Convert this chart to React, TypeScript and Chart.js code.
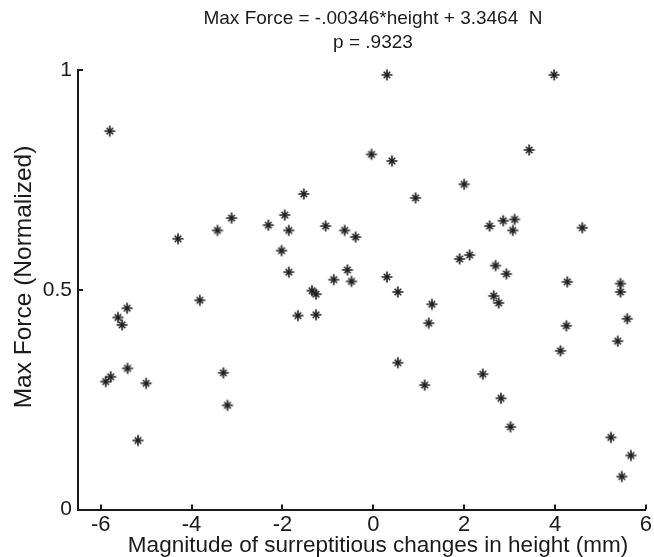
import React, { useEffect, useRef } from "react";
import { Chart, registerables } from "chart.js";

Chart.register(...registerables);

// Height change (mm) for each trial
const heightChange = [
  -5.80, -1.53, -3.12, -3.43, -4.30, -2.31, -1.95, -1.86, -2.02, -1.86,
  -1.05, -0.63, -0.39, -0.87, -0.57, -0.48, -1.35, -1.26, -3.82, -5.42,
  -5.62, -1.66, -1.26, -5.53, -5.41, -5.89, -5.78, -5.00, -5.18, -3.30,
  -3.21, 0.30, 3.98, -0.04, 0.41, 3.43, 2.00, 0.93, 2.56, 2.86,
  3.11, 3.07, 4.60, 1.90, 2.12, 2.69, 2.93, 0.30, 0.54, 1.29,
  2.65, 2.76, 4.27, 5.44, 5.44, 5.59, 1.22, 0.54, 1.13, 2.41,
  2.81, 3.02, 4.25, 4.12, 5.38, 5.23, 5.67, 5.47,
];

// Normalized max force for each trial
const maxForce = [
  0.861, 0.718, 0.663, 0.635, 0.616, 0.647, 0.670, 0.635, 0.589, 0.540,
  0.645, 0.635, 0.620, 0.523, 0.545, 0.519, 0.498, 0.490, 0.476, 0.458,
  0.437, 0.441, 0.443, 0.420, 0.321, 0.291, 0.302, 0.287, 0.157, 0.311,
  0.237, 0.989, 0.989, 0.808, 0.793, 0.818, 0.740, 0.709, 0.645, 0.657,
  0.660, 0.635, 0.641, 0.570, 0.579, 0.555, 0.536, 0.529, 0.495, 0.467,
  0.486, 0.470, 0.518, 0.514, 0.495, 0.434, 0.424, 0.334, 0.283, 0.308,
  0.253, 0.188, 0.418, 0.361, 0.383, 0.164, 0.123, 0.075,
];

const xTicks = [-6, -4, -2, 0, 2, 4, 6];
const yTicks = [0, 0.5, 1];
const yTickLabels = ["0", "0.5", "1"];
const titleLines = ["Max Force = -.00346*height + 3.3464  N", "p = .9323"];
const xLabel = "Magnitude of surreptitious changes in height (mm)";
const yLabel = "Max Force (Normalized)";

const INK = "#1a1a1a";
const FONT_FAMILY = '"Liberation Sans", Arial, Helvetica, sans-serif';

function makeAsterisk(): HTMLCanvasElement {
  const c = document.createElement("canvas");
  const s = 14;
  c.width = s;
  c.height = s;
  const g = c.getContext("2d")!;
  const m = s / 2;
  g.strokeStyle = INK;
  g.lineCap = "butt";
  g.lineWidth = 1.6;
  g.beginPath();
  g.moveTo(m, m - 5.5);
  g.lineTo(m, m + 5.5);
  g.moveTo(m - 5.5, m);
  g.lineTo(m + 5.5, m);
  g.stroke();
  g.lineWidth = 1.5;
  const d = 3.3;
  g.beginPath();
  g.moveTo(m - d, m - d);
  g.lineTo(m + d, m + d);
  g.moveTo(m - d, m + d);
  g.lineTo(m + d, m - d);
  g.stroke();
  return c;
}

const decorPlugin = {
  id: "decor",
  afterDraw(chart: any) {
    const { ctx, chartArea, scales } = chart;
    ctx.save();
    ctx.strokeStyle = INK;
    ctx.lineWidth = 2;
    ctx.beginPath();
    xTicks.forEach((v) => {
      const px = Math.round(scales.x.getPixelForValue(v));
      ctx.moveTo(px, chartArea.bottom);
      ctx.lineTo(px, chartArea.bottom - 5);
    });
    yTicks.forEach((v) => {
      const py = Math.round(scales.y.getPixelForValue(v));
      ctx.moveTo(chartArea.left, py);
      ctx.lineTo(chartArea.left + 5, py);
    });
    ctx.stroke();

    ctx.fillStyle = INK;
    ctx.textAlign = "center";
    ctx.textBaseline = "middle";
    ctx.font = `19px ${FONT_FAMILY}`;
    ctx.fillText(titleLines[0], 373, 19);
    ctx.fillText(titleLines[1], 373, 43);
    ctx.font = `22.5px ${FONT_FAMILY}`;
    ctx.fillText(xLabel, 378, 546);
    ctx.translate(24, 277);
    ctx.rotate(-Math.PI / 2);
    ctx.font = `24.5px ${FONT_FAMILY}`;
    ctx.fillText(yLabel, 0, 0);
    ctx.restore();
  },
};

export default function App() {
  const canvasRef = useRef<HTMLCanvasElement | null>(null);

  useEffect(() => {
    if (!canvasRef.current) return;
    const points = heightChange.map((x, i) => ({ x, y: maxForce[i] }));
    const marker = makeAsterisk();
    const chart = new Chart(canvasRef.current, {
      type: "scatter",
      data: {
        datasets: [
          {
            data: points,
            pointStyle: marker as any,
            pointRadius: 6,
            borderColor: INK,
            backgroundColor: INK,
            clip: false as any,
          },
        ],
      },
      options: {
        animation: false,
        responsive: false,
        events: [],
        layout: { padding: { top: 70, right: 7, left: 0, bottom: 0 } },
        plugins: {
          legend: { display: false },
          tooltip: { enabled: false },
          title: { display: false },
        },
        scales: {
          x: {
            type: "linear",
            min: -6.5,
            max: 6,
            grid: { display: false, drawTicks: false },
            border: { display: true, color: INK, width: 2 },
            afterBuildTicks: (s: any) => {
              s.ticks = xTicks.map((v) => ({ value: v }));
            },
            afterFit: (s: any) => {
              s.height = 47.5;
            },
            ticks: {
              padding: 2,
              color: INK,
              font: { family: FONT_FAMILY, size: 22 },
              maxRotation: 0,
              autoSkip: false,
              callback: (v: any) => String(v),
            },
          },
          y: {
            type: "linear",
            min: 0,
            max: 1,
            grid: { display: false, drawTicks: false },
            border: { display: true, color: INK, width: 2 },
            afterBuildTicks: (s: any) => {
              s.ticks = yTicks.map((v) => ({ value: v }));
            },
            afterFit: (s: any) => {
              s.width = 78;
            },
            ticks: {
              padding: 6,
              color: INK,
              font: { family: FONT_FAMILY, size: 21 },
              autoSkip: false,
              callback: (v: any) => {
                const i = yTicks.indexOf(Number(v));
                return i >= 0 ? yTickLabels[i] : "";
              },
            },
          },
        },
      },
      plugins: [decorPlugin],
    });
    return () => chart.destroy();
  }, []);

  return (
    <div style={{ position: "fixed", left: 0, top: 0, width: 654, height: 557, background: "#fff" }}>
      <canvas ref={canvasRef} width={654} height={557} style={{ display: "block" }} />
    </div>
  );
}
